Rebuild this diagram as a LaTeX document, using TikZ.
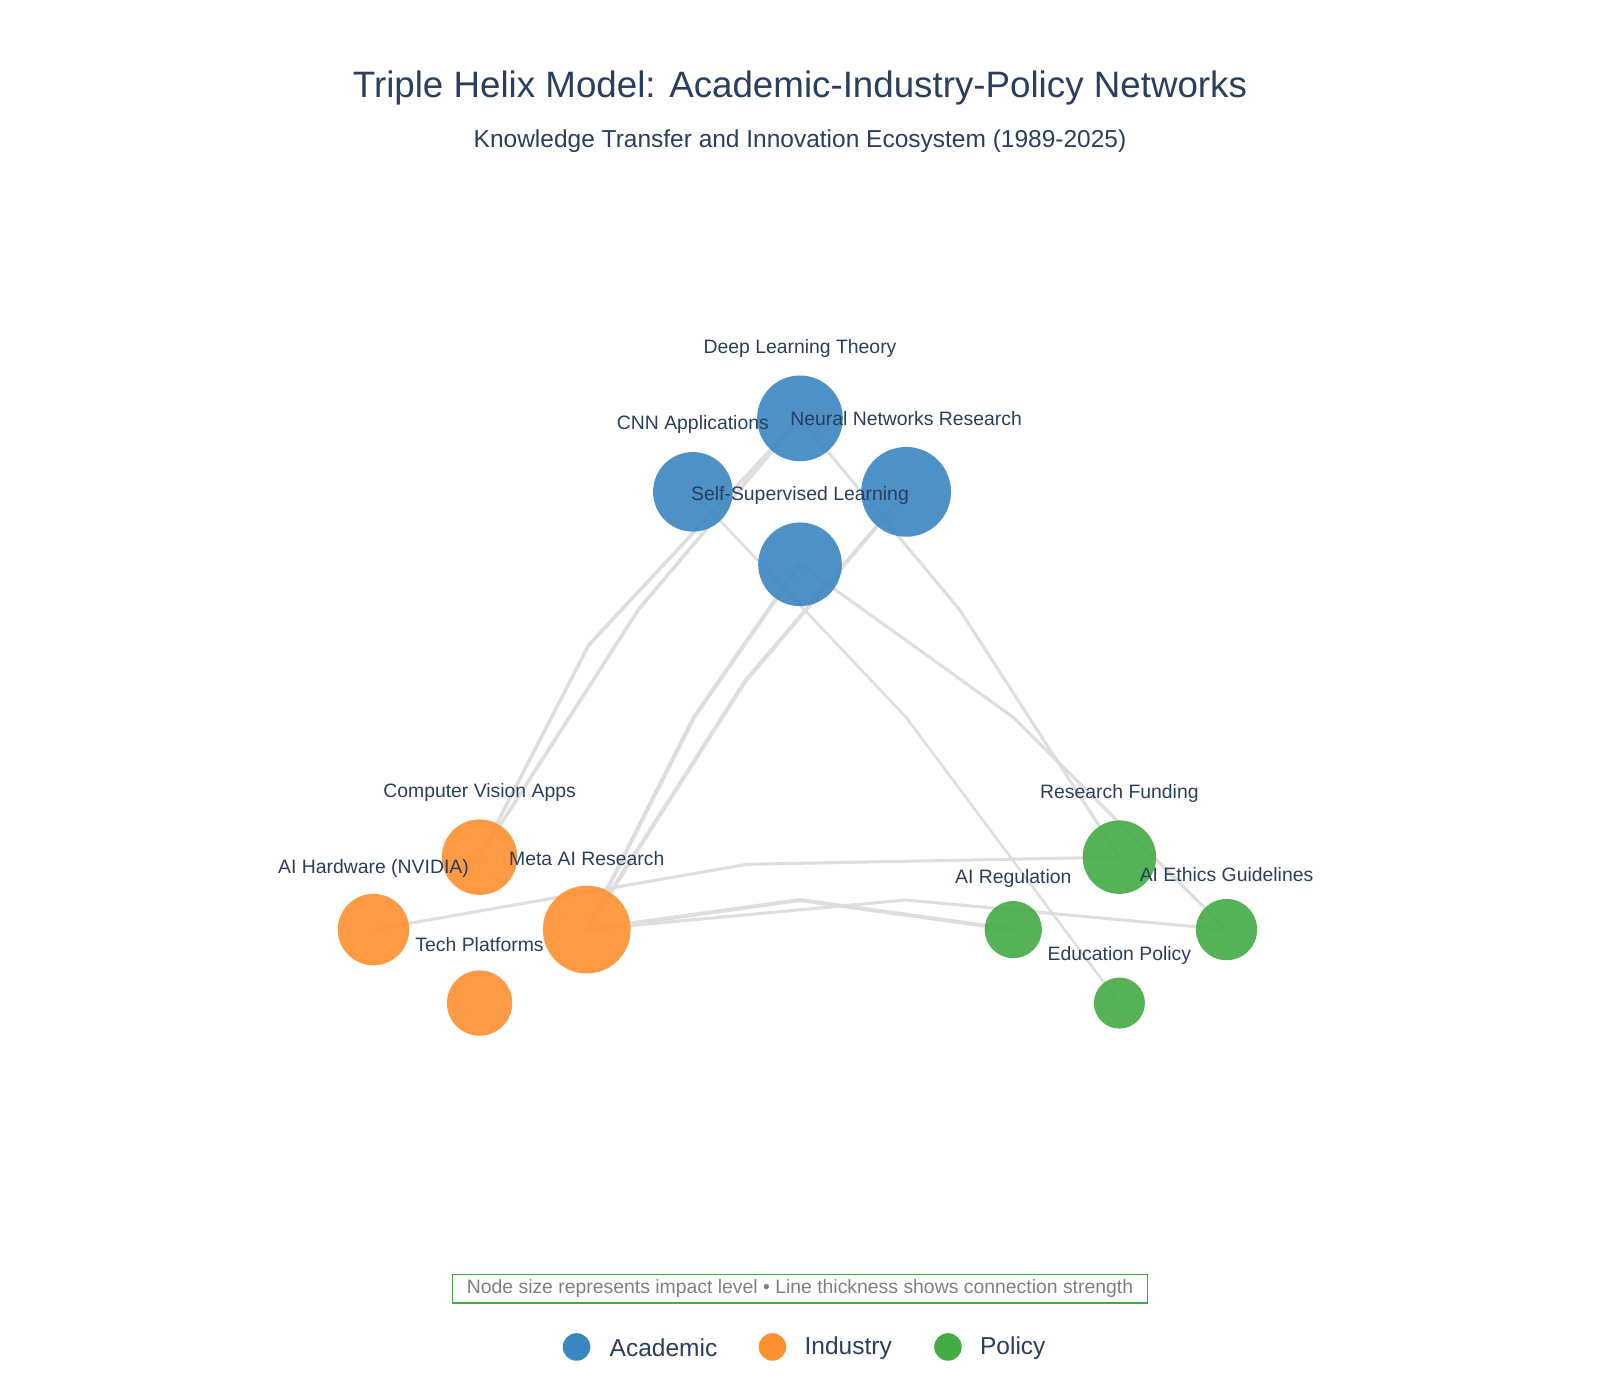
\documentclass[tikz,border=0pt]{standalone}
\usepackage{fontspec}
\setmainfont{Liberation Sans}
\begin{document}
\begin{tikzpicture}[x=1pt,y=-1pt,
  edge/.style={draw=black!13,line width=#1,line join=round},
  nd/.style={circle,inner sep=0pt,minimum size=#1,fill opacity=0.9},
  lbl/.style={text=labc,font=\fontsize{19}{22}\selectfont},
  lgt/.style={text=labc,font=\fontsize{24}{28}\selectfont,anchor=west}]
\definecolor{labc}{HTML}{2A3F5F}
\definecolor{acad}{HTML}{3A86C0}
\definecolor{indu}{HTML}{FF9030}
\definecolor{poli}{HTML}{44AA44}
\useasboundingbox[fill=white] (0,0) rectangle (1568,1372);
\node[text=labc,font=\fontsize{36}{40}\selectfont] (title) at (784,86) {Triple Helix Model: Academic-Industry-Policy Networks};
\node[text=labc,font=\fontsize{24}{28}\selectfont] (sub) at (784,138) {Knowledge Transfer and Innovation Ecosystem (1989-2025)};
% node coordinates
\coordinate (DL) at (784,410); \coordinate (CNN) at (679,482); \coordinate (NN) at (888,482);
\coordinate (SSL) at (784,553); \coordinate (CVA) at (470,840); \coordinate (HW) at (366,911);
\coordinate (META) at (575,911); \coordinate (TP) at (470,983); \coordinate (RF) at (1097,840);
\coordinate (REG) at (993,911); \coordinate (ETH) at (1202,911); \coordinate (EDU) at (1097,983);
% edges
\draw[edge=3.5pt] (CVA) -- (577,632) -- (DL);
\draw[edge=3.5pt] (CVA) -- (626,597) -- (DL);
\draw[edge=4pt] (META) -- (680,703) -- (SSL);
\draw[edge=4pt] (META) -- (730,668) -- (NN);
\draw[edge=4pt] (META) -- (784,882) -- (REG);
\draw[edge=3pt] (META) -- (888,882) -- (ETH);
\draw[edge=3pt] (HW) -- (732,847) -- (RF);
\draw[edge=2.5pt] (CNN) -- (888,703) -- (EDU);
\draw[edge=3pt] (SSL) -- (993,703) -- (ETH);
\draw[edge=3pt] (DL) -- (940,597) -- (RF);
% nodes
\node[nd=84,fill=acad] (dl) at (DL) {};
\node[nd=78,fill=acad] (cnn) at (CNN) {};
\node[nd=88,fill=acad] (nn) at (NN) {};
\node[nd=82,fill=acad] (ssl) at (SSL) {};
\node[nd=74,fill=indu] (cva) at (CVA) {};
\node[nd=70,fill=indu] (hw) at (HW) {};
\node[nd=86,fill=indu] (meta) at (META) {};
\node[nd=64,fill=indu] (tp) at (TP) {};
\node[nd=72,fill=poli] (rf) at (RF) {};
\node[nd=56,fill=poli] (reg) at (REG) {};
\node[nd=60,fill=poli] (eth) at (ETH) {};
\node[nd=50,fill=poli] (edu) at (EDU) {};
% labels
\node[lbl] (ldl) at (784,342) {Deep Learning Theory};
\node[lbl] (lcnn) at (679,416) {CNN Applications};
\node[lbl] (lnn) at (888,410) {Neural Networks Research};
\node[lbl] (lssl) at (784,486) {Self-Supervised Learning};
\node[lbl] (lcva) at (470,777) {Computer Vision Apps};
\node[lbl] (lhw) at (366,851) {AI Hardware (NVIDIA)};
\node[lbl] (lmeta) at (575,841) {Meta AI Research};
\node[lbl] (ltp) at (470,926) {Tech Platforms};
\node[lbl] (lrf) at (1097,778) {Research Funding};
\node[lbl] (lreg) at (993,861) {AI Regulation};
\node[lbl] (leth) at (1202,857) {AI Ethics Guidelines};
\node[lbl] (ledu) at (1097,936) {Education Policy};
% footer
\node[draw=poli,line width=1.3pt,inner sep=2pt,text=black!50,font=\fontsize{19}{22}\selectfont,minimum width=681,minimum height=28] (foot) at (784,1263) {Node size represents impact level • Line thickness shows connection strength};
% legend
\node[circle,fill=acad,inner sep=0pt,minimum size=27] (la) at (565,1320) {};
\node[lgt] (ta) at (594,1321) {Academic};
\node[circle,fill=indu,inner sep=0pt,minimum size=27] (li) at (757,1320) {};
\node[lgt] (ti) at (785,1321) {Industry};
\node[circle,fill=poli,inner sep=0pt,minimum size=27] (lp) at (929,1320) {};
\node[lgt] (tpol) at (957,1321) {Policy};
\end{tikzpicture}
\end{document}
